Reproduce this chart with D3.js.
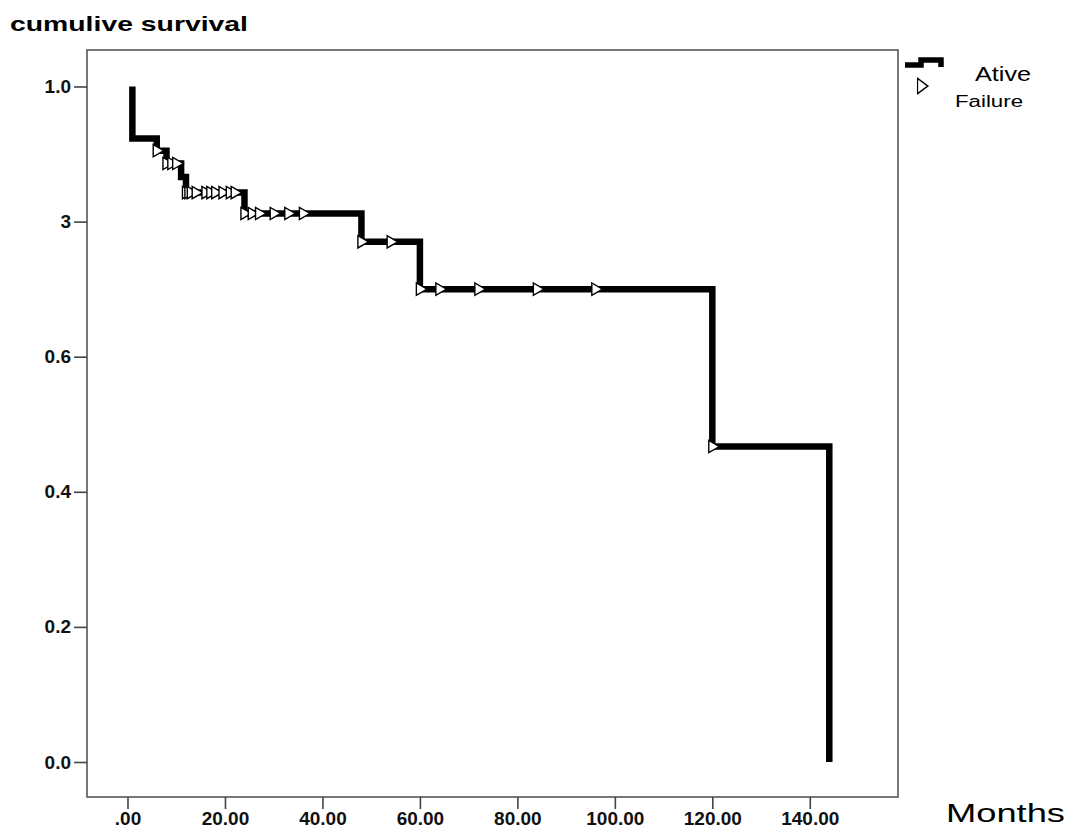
<!DOCTYPE html>
<html lang="en">
<head>
<meta charset="UTF-8">
<title>cumulive survival</title>
<script src="https://d3js.org/d3.v7.min.js"></script>
<style>
    body { margin: 0; background: #fff; }
    .tick text { font-family: "Liberation Sans", Arial, sans-serif; font-weight: bold; font-size: 19px; fill: #111; }
    .frame { fill: none; stroke: #555; stroke-width: 1.6px; }
    .km { fill: none; stroke: #000; stroke-width: 6.5px; stroke-linejoin: miter; stroke-linecap: butt; }
    .censor { fill: #fff; stroke: #000; stroke-width: 1.4px; }
</style>
</head>
<body>
<svg id="chart" width="1068" height="830"></svg>
<script>
    // event times (months) and survival right after each event
    const eventTimes = [1, 6, 8, 11, 12, 24, 48, 60, 120, 144];
    const survival   = [0.923, 0.905, 0.886, 0.866, 0.843, 0.812, 0.770, 0.700, 0.467, 0.0];

    // censored cases (months)
    const censorTimes = [6, 8, 9, 10, 12, 12.5, 13, 14, 16, 17, 18, 19.5, 21, 22,
                         24, 25.5, 27, 30, 33, 36, 48, 54, 60, 64, 72, 84, 96, 120];

    const xTicks = [0, 20, 40, 60, 80, 100, 120, 140];
    const xTickLabels = [".00", "20.00", "40.00", "60.00", "80.00", "100.00", "120.00", "140.00"];
    const yTicks = [0, 0.2, 0.4, 0.6, 0.8, 1.0];
    const yTickLabels = ["0.0", "0.2", "0.4", "0.6", "3", "1.0"];

    const plotLeft = 87, plotRight = 898, plotTop = 50, plotBottom = 797;

    const svg = d3.select("#chart");

    const x = d3.scaleLinear().domain([-8.31, 158.1]).range([plotLeft, plotRight]);
    const y = d3.scaleLinear().domain([-0.0518, 1.054]).range([plotBottom, plotTop]);

    // frame
    svg.append("rect")
        .attr("class", "frame")
        .attr("x", plotLeft).attr("y", plotTop)
        .attr("width", plotRight - plotLeft).attr("height", plotBottom - plotTop);

    // axes
    const xAxis = d3.axisBottom(x)
        .tickValues(xTicks)
        .tickFormat((d, i) => xTickLabels[i])
        .tickSize(12).tickPadding(3);
    const gx = svg.append("g").attr("transform", `translate(0,${plotBottom})`).call(xAxis);
    gx.select(".domain").remove();
    gx.selectAll(".tick line").attr("stroke", "#444").attr("stroke-width", 1.6);

    const yAxis = d3.axisLeft(y)
        .tickValues(yTicks)
        .tickFormat((d, i) => yTickLabels[i])
        .tickSize(13).tickPadding(3);
    const gy = svg.append("g").attr("transform", `translate(${plotLeft},0)`).call(yAxis);
    gy.select(".domain").remove();
    gy.selectAll(".tick line").attr("stroke", "#444").attr("stroke-width", 1.6);

    // step curve
    const pts = [{ t: eventTimes[0], s: 1.0 }];
    eventTimes.forEach((t, i) => pts.push({ t: t, s: survival[i] }));

    const line = d3.line()
        .x(d => x(d.t))
        .y(d => y(d.s))
        .curve(d3.curveStepAfter);

    svg.append("path").datum(pts).attr("class", "km").attr("d", line);

    // survival level at a given time (post-event if tied)
    function levelAt(t) {
        let s = 1.0;
        eventTimes.forEach((et, i) => { if (et <= t) s = survival[i]; });
        return s;
    }

    const tri = d3.symbol().type(d3.symbolTriangle).size(65);
    svg.selectAll(".censor")
        .data(censorTimes)
        .join("path")
        .attr("class", "censor")
        .attr("d", tri)
        .attr("transform", d => `translate(${x(d)},${y(levelAt(d))}) rotate(90)`);

    // titles
    svg.append("text")
        .attr("x", 10).attr("y", 31)
        .attr("textLength", 238).attr("lengthAdjust", "spacingAndGlyphs")
        .style("font-family", "Liberation Sans, Arial, sans-serif")
        .style("font-weight", "bold").style("font-size", "21px")
        .text("cumulive survival");

    svg.append("text")
        .attr("x", 946).attr("y", 822)
        .attr("textLength", 119).attr("lengthAdjust", "spacingAndGlyphs")
        .style("font-family", "Liberation Sans, Arial, sans-serif")
        .style("font-size", "25px")
        .text("Months");

    // legend
    const lg = svg.append("g");
    lg.append("path")
        .attr("d", "M905,65 H921 V60 H941 V67")
        .attr("fill", "none").attr("stroke", "#000").attr("stroke-width", 5.5);
    lg.append("path")
        .attr("class", "censor")
        .attr("d", d3.symbol().type(d3.symbolTriangle).size(85))
        .attr("transform", "translate(921,86) rotate(90) scale(1.1,0.85)");
    lg.append("text")
        .attr("x", 975).attr("y", 81)
        .attr("textLength", 56).attr("lengthAdjust", "spacingAndGlyphs")
        .style("font-family", "Liberation Sans, Arial, sans-serif")
        .style("font-size", "20px")
        .text("Ative");
    lg.append("text")
        .attr("x", 955).attr("y", 107)
        .attr("textLength", 68).attr("lengthAdjust", "spacingAndGlyphs")
        .style("font-family", "Liberation Sans, Arial, sans-serif")
        .style("font-size", "16px")
        .text("Failure");
</script>
</body>
</html>
